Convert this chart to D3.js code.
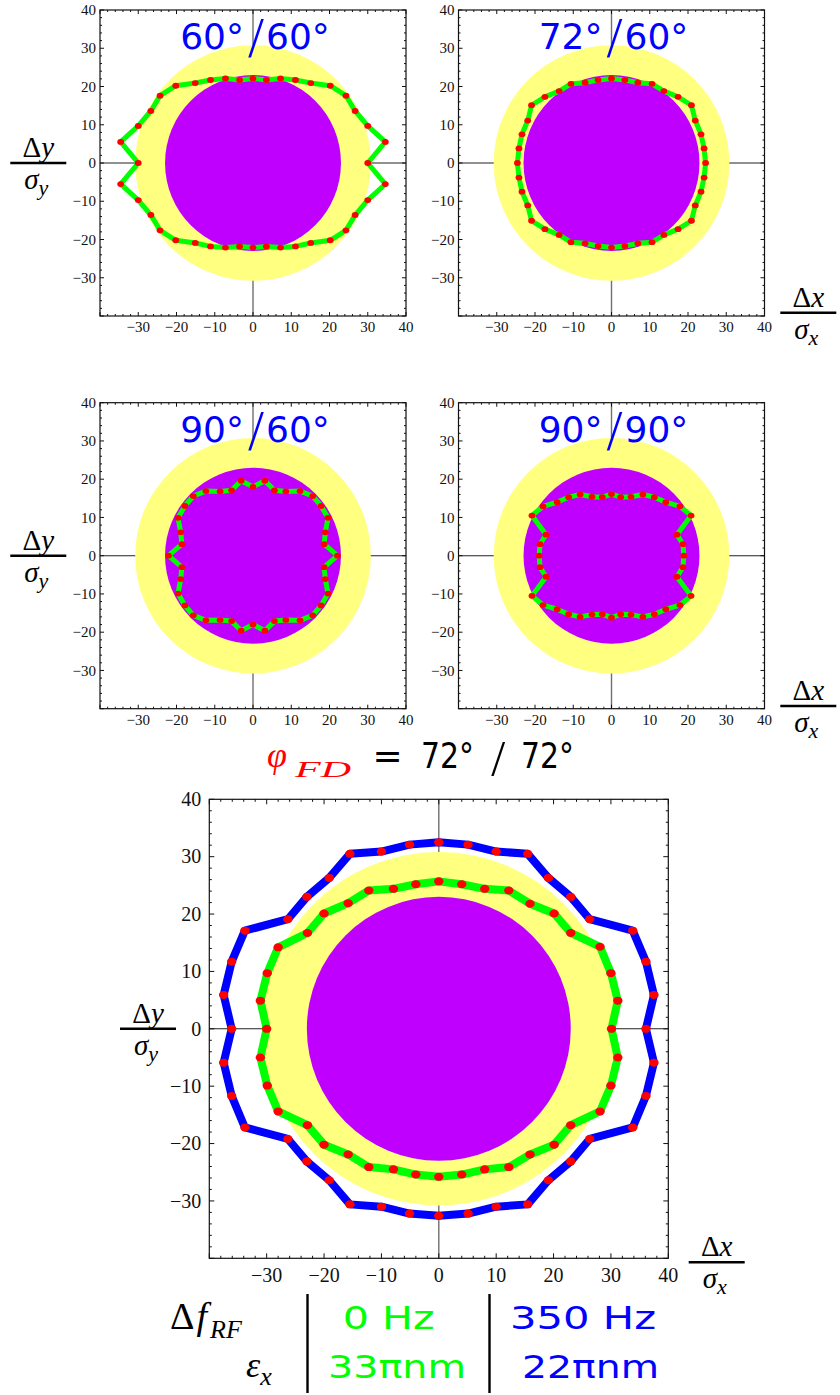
<!DOCTYPE html>
<html>
<head>
<meta charset="utf-8">
<script src="https://cdn.jsdelivr.net/npm/d3@7"></script>
<style>
  body { margin: 0; background: #fff; }
  svg { display: block; }
</style>
</head>
<body>
<svg id="chart" width="840" height="1395"></svg>
<script>
// Values, in units of sigma

const axisDomain = [-40, 40];
const labelTicks = [-30, -20, -10, 0, 10, 20, 30, 40];

const yellowRadius = 30.8;
const purpleRadius = 23.0;

// phase 60/60
const ring6060 = [
  [30.0, 0], [34.6, 5.5], [30.0, 9.7], [26.7, 13.6], [24.3, 17.6], [20.2, 20.2], [15.1, 20.9], [11.1, 21.7], [7.2, 22.1], [3.5, 21.7],
  [0, 22.1], [-3.5, 21.7], [-7.2, 22.1], [-11.1, 21.7], [-15.1, 20.9], [-20.2, 20.2], [-24.3, 17.6], [-26.7, 13.6], [-30.0, 9.7], [-34.6, 5.5],
  [-30.0, 0], [-34.6, -5.5], [-30.0, -9.7], [-26.7, -13.6], [-24.3, -17.6], [-20.2, -20.2], [-15.1, -20.9], [-11.1, -21.8], [-7.2, -22.1], [-3.5, -21.8],
  [0, -22.1], [3.5, -21.8], [7.2, -22.1], [11.1, -21.8], [15.1, -20.9], [20.2, -20.2], [24.3, -17.6], [26.7, -13.6], [30.0, -9.7], [34.6, -5.5]
];

// phase 72/60
const ring7260 = [
  [24.6, 0], [24.2, 3.8], [23.4, 7.5], [21.9, 11.1], [20.9, 15.1], [17.4, 17.3], [13.7, 18.8], [10.6, 20.7], [6.9, 21.0], [3.5, 21.7],
  [0, 22.1], [-3.5, 21.7], [-6.9, 21.0], [-10.6, 20.7], [-13.7, 18.8], [-17.4, 17.3], [-20.9, 15.1], [-21.9, 11.1], [-23.4, 7.5], [-24.2, 3.8],
  [-24.6, 0], [-24.2, -3.8], [-23.4, -7.5], [-21.9, -11.1], [-20.9, -15.1], [-17.4, -17.3], [-13.7, -18.8], [-10.6, -20.7], [-6.9, -21.0], [-3.5, -21.7],
  [0, -22.1], [3.5, -21.7], [6.9, -21.0], [10.6, -20.7], [13.7, -18.8], [17.4, -17.3], [20.9, -15.1], [21.9, -11.1], [23.4, -7.5], [24.2, -3.8]
];

// phase 90/60
const ring9060 = [
  [22.1, 0], [18.6, 3.0], [18.9, 6.1], [19.6, 9.9], [17.8, 13.0], [15.6, 15.6], [12.3, 16.9], [8.6, 16.8], [5.6, 17.1], [3.1, 19.6],
  [0, 18.0], [-3.1, 19.6], [-5.6, 17.1], [-8.6, 16.8], [-12.3, 16.9], [-15.6, 15.6], [-17.8, 13.0], [-19.6, 9.9], [-18.9, 6.1], [-18.6, 3.0],
  [-22.1, 0], [-18.6, -3.0], [-18.9, -6.1], [-19.6, -9.9], [-17.8, -13.0], [-15.6, -15.6], [-12.3, -16.9], [-8.6, -16.8], [-5.6, -17.1], [-3.1, -19.6],
  [0, -18.0], [3.1, -19.6], [5.6, -17.1], [8.6, -16.8], [12.3, -16.9], [15.6, -15.6], [17.8, -13.0], [19.6, -9.9], [18.9, -6.1], [18.6, -3.0]
];

// phase 90/90
const ring9090 = [
  [18.9, 0], [18.7, 3.0], [17.1, 5.5], [20.8, 10.5], [17.9, 12.9], [14.2, 14.0], [11.2, 15.3], [8.2, 16.0], [5.1, 15.4], [2.4, 15.3],
  [0, 16.1], [-2.4, 15.3], [-5.1, 15.4], [-8.2, 16.0], [-11.2, 15.3], [-14.2, 14.0], [-17.9, 12.9], [-20.8, 10.5], [-17.1, 5.5], [-18.7, 3.0],
  [-18.9, 0], [-18.7, -3.0], [-17.1, -5.5], [-20.8, -10.5], [-17.9, -12.9], [-14.2, -14.0], [-11.2, -15.3], [-8.2, -16.0], [-5.1, -15.4], [-2.4, -15.3],
  [0, -16.2], [2.4, -15.3], [5.1, -15.4], [8.2, -16.0], [11.2, -15.3], [14.2, -14.0], [17.9, -12.9], [20.8, -10.5], [17.1, -5.5], [18.7, -3.0]
];

// phase 72/72, 0 Hz
const ring7272green = [
  [30.1, 0], [31.2, 4.9], [30.0, 9.7], [28.1, 14.3], [23.0, 16.7], [20.1, 20.1], [15.9, 21.8], [12.2, 24.1], [8.0, 24.4], [4.0, 25.2],
  [0, 25.7], [-4.0, 25.2], [-7.9, 24.4], [-12.2, 24.1], [-15.8, 21.9], [-20.0, 20.1], [-22.9, 16.7], [-28.0, 14.2], [-29.9, 9.7], [-31.1, 4.9],
  [-30.0, 0], [-31.1, -5.0], [-29.9, -9.9], [-28.0, -14.4], [-22.9, -16.8], [-20.0, -20.2], [-15.8, -21.9], [-12.2, -24.1], [-7.9, -24.5], [-4.0, -25.4],
  [0, -25.8], [4.0, -25.4], [8.0, -24.5], [12.2, -24.1], [15.9, -21.9], [20.1, -20.2], [23.0, -16.8], [28.1, -14.4], [30.0, -9.9], [31.2, -5.0]
];

// phase 72/72, 350 Hz
const ring7272blue = [
  [36.1, 0], [37.5, 5.9], [36.1, 11.7], [33.8, 17.1], [26.3, 19.1], [23.0, 23.0], [19.1, 26.3], [15.5, 30.5], [10.0, 30.9], [5.1, 32.1],
  [0, 32.5], [-5.1, 32.1], [-10.0, 30.9], [-15.5, 30.5], [-19.1, 26.3], [-23.0, 23.0], [-26.3, 19.1], [-33.8, 17.1], [-36.1, 11.7], [-37.5, 5.9],
  [-36.1, 0], [-37.5, -5.9], [-36.1, -11.7], [-33.8, -17.2], [-26.3, -19.2], [-23.0, -23.1], [-19.1, -26.4], [-15.5, -30.6], [-10.0, -31.0], [-5.1, -32.2],
  [0, -32.6], [5.1, -32.2], [10.0, -31.0], [15.5, -30.6], [19.1, -26.4], [23.0, -23.1], [26.3, -19.2], [33.8, -17.2], [36.1, -11.7], [37.5, -5.9]
];

const smallTitles = [["60°", "60°"], ["72°", "60°"], ["90°", "60°"], ["90°", "90°"]];
const bigTitle = ["72°", "72°"];
const legendFreq = ["0 Hz", "350 Hz"];
const legendEmit = ["33πnm", "22πnm"];

const GREEN = "#00ff00", BLUE = "#0000ff", RED = "#ff0000";
const YELLOW = "#ffff80", PURPLE = "#bf00ff";
const SERIF = "'Liberation Serif', 'Times New Roman', 'DejaVu Serif', serif";
const SANS = "'DejaVu Sans', sans-serif";

const svg = d3.select("#chart");
const fmt = d => d < 0 ? "\u2212" + Math.abs(d) : String(d);

function drawPanel(cfg) {
  const x = d3.scaleLinear().domain(axisDomain).range([cfg.x0, cfg.x0 + cfg.size]);
  const y = d3.scaleLinear().domain(axisDomain).range([cfg.y0 + cfg.size, cfg.y0]);
  const g = svg.append("g");

  // axes through the origin
  g.append("line")
    .attr("x1", x(-40)).attr("x2", x(40)).attr("y1", y(0)).attr("y2", y(0))
    .attr("stroke", "#222").attr("stroke-width", 1.1);
  g.append("line")
    .attr("x1", x(0)).attr("x2", x(0)).attr("y1", y(-40)).attr("y2", y(40))
    .attr("stroke", "#707070").attr("stroke-width", 1.4);

  // beam discs
  g.append("circle")
    .attr("cx", x(0)).attr("cy", y(0)).attr("r", x(yellowRadius) - x(0))
    .attr("fill", YELLOW);
  g.append("circle")
    .attr("cx", x(0)).attr("cy", y(0)).attr("r", x(purpleRadius) - x(0))
    .attr("fill", PURPLE);

  const line = d3.line().x(d => x(d[0])).y(d => y(d[1])).curve(d3.curveLinearClosed);
  cfg.rings.forEach(r => {
    g.append("path")
      .datum(r.pts)
      .attr("d", line)
      .attr("fill", "none")
      .attr("stroke", r.color)
      .attr("stroke-width", cfg.lineWidth)
      .attr("stroke-linejoin", "round");
  });
  cfg.rings.forEach(r => {
    g.selectAll(null)
      .data(r.pts)
      .enter().append("ellipse")
      .attr("cx", d => x(d[0])).attr("cy", d => y(d[1]))
      .attr("rx", cfg.dot[0]).attr("ry", cfg.dot[1])
      .attr("fill", RED);
  });

  // frame with inward ticks
  g.append("rect")
    .attr("x", x(-40)).attr("y", y(40))
    .attr("width", x(40) - x(-40)).attr("height", y(-40) - y(40))
    .attr("fill", "none").attr("stroke", "#111").attr("stroke-width", 1.2);

  const all = d3.range(-40, 41, 2);
  const len = v => (v % 10 === 0 ? cfg.tick[0] : cfg.tick[1]);
  all.forEach(v => {
    g.append("line").attr("x1", x(v)).attr("x2", x(v))
      .attr("y1", y(-40)).attr("y2", y(-40) - len(v)).attr("stroke", "#111");
    g.append("line").attr("x1", x(v)).attr("x2", x(v))
      .attr("y1", y(40)).attr("y2", y(40) + len(v)).attr("stroke", "#111");
    g.append("line").attr("y1", y(v)).attr("y2", y(v))
      .attr("x1", x(-40)).attr("x2", x(-40) + len(v)).attr("stroke", "#111");
    g.append("line").attr("y1", y(v)).attr("y2", y(v))
      .attr("x1", x(40)).attr("x2", x(40) - len(v)).attr("stroke", "#111");
  });

  g.selectAll(null)
    .data(labelTicks)
    .enter().append("text")
    .attr("font-family", SERIF)
    .attr("fill", "#111")
    .attr("x", d => x(d)).attr("y", y(-40) + cfg.xLabelDy)
    .attr("text-anchor", "middle")
    .attr("font-size", cfg.fontSize)
    .text(fmt);

  g.selectAll(null)
    .data(labelTicks)
    .enter().append("text")
    .attr("font-family", SERIF)
    .attr("fill", "#111")
    .attr("x", x(-40) - cfg.yLabelDx).attr("y", d => y(d))
    .attr("dy", "0.34em")
    .attr("text-anchor", "end")
    .attr("font-size", cfg.fontSize)
    .text(fmt);

  return { x, y };
}

// phase advance title like "60°/60°"
function phaseTitle(cx, base, parts, color) {
  svg.append("text").attr("font-family", SANS)
    .attr("x", cx - 9).attr("y", base)
    .attr("text-anchor", "end").attr("font-size", 36).attr("fill", color)
    .text(parts[0]);
  svg.append("text").attr("font-family", SERIF)
    .attr("x", cx + 3).attr("y", base + 8)
    .attr("text-anchor", "middle").attr("font-size", 56).attr("fill", color)
    .text("/");
  svg.append("text").attr("font-family", SANS)
    .attr("x", cx + 13).attr("y", base)
    .attr("text-anchor", "start").attr("font-size", 36).attr("fill", color)
    .text(parts[1]);
}

// stacked fraction like  Δy / σ_y
function fraction(cx, barY, v) {
  const t = svg.append("text").attr("font-family", SERIF)
    .attr("x", cx).attr("y", barY - 6)
    .attr("text-anchor", "middle").attr("font-size", 29).attr("fill", "#000");
  t.append("tspan").text("Δ");
  t.append("tspan").attr("font-style", "italic").text(v);

  svg.append("line")
    .attr("x1", cx - 28).attr("x2", cx + 28).attr("y1", barY).attr("y2", barY)
    .attr("stroke", "#000").attr("stroke-width", 2.6);

  const b = svg.append("text").attr("font-family", SERIF)
    .attr("x", cx - 2).attr("y", barY + 26)
    .attr("text-anchor", "middle").attr("font-size", 29).attr("font-style", "italic").attr("fill", "#000");
  b.append("tspan").text("σ");
  b.append("tspan").attr("font-size", 22).attr("dy", 6).text(v);
}

// ---- four small panels ----
const small = [
  { x0: 100, y0: 10, rings: [{ pts: ring6060, color: GREEN }] },
  { x0: 458.5, y0: 10, rings: [{ pts: ring7260, color: GREEN }] },
  { x0: 100, y0: 402.7, rings: [{ pts: ring9060, color: GREEN }] },
  { x0: 458.5, y0: 402.7, rings: [{ pts: ring9090, color: GREEN }] }
];
small.forEach((p, i) => {
  const s = drawPanel(Object.assign({
    size: 306, lineWidth: 5, dot: [3.4, 2.9], tick: [4, 2],
    fontSize: 15, xLabelDy: 16, yLabelDx: 4
  }, p));
  phaseTitle(s.x(0), p.y0 + 39.3, smallTitles[i], BLUE);
});

fraction(38.3, 163, "y");
fraction(38.3, 555.7, "y");
fraction(808.3, 312.7, "x");
fraction(808.3, 706, "x");

// ---- big panel, phase 72/72 ----
const big = drawPanel({
  x0: 209.3, y0: 799.3, size: 459,
  rings: [{ pts: ring7272blue, color: BLUE }, { pts: ring7272green, color: GREEN }],
  lineWidth: 8, dot: [4.7, 4.0], tick: [5, 2.5],
  fontSize: 20, xLabelDy: 24, yLabelDx: 8
});

fraction(148, big.y(0), "y");
fraction(716.7, 1262.3, "x");

// title  φ_FD = 72°/72°
svg.append("text").attr("font-family", SERIF)
  .attr("x", 267).attr("y", 767).attr("font-size", 36)
  .attr("font-style", "italic").attr("fill", RED)
  .text("φ");
svg.append("text").attr("font-family", SERIF)
  .attr("x", 295).attr("y", 777).attr("font-size", 24)
  .attr("font-style", "italic").attr("fill", RED)
  .attr("textLength", 56).attr("lengthAdjust", "spacingAndGlyphs")
  .text("FD");
svg.append("text").attr("font-family", SANS)
  .attr("x", 387.5).attr("y", 768).attr("text-anchor", "middle")
  .attr("font-size", 36).attr("fill", "#000").text("=");
svg.append("text").attr("font-family", SANS)
  .attr("x", 421).attr("y", 768).attr("font-size", 36).attr("fill", "#000")
  .attr("textLength", 53).attr("lengthAdjust", "spacingAndGlyphs")
  .text(bigTitle[0]);
svg.append("text").attr("font-family", SERIF)
  .attr("x", 498.3).attr("y", 775).attr("text-anchor", "middle")
  .attr("font-size", 50).attr("fill", "#000").text("/");
svg.append("text").attr("font-family", SANS)
  .attr("x", 521).attr("y", 768).attr("font-size", 36).attr("fill", "#000")
  .attr("textLength", 53).attr("lengthAdjust", "spacingAndGlyphs")
  .text(bigTitle[1]);

// ---- legend table ----
const df = svg.append("text").attr("font-family", SERIF)
  .attr("x", 170).attr("y", 1329).attr("font-size", 38).attr("fill", "#000");
df.append("tspan").text("Δ");
df.append("tspan").attr("font-style", "italic").attr("dx", 2).text("f");
df.append("tspan").attr("font-style", "italic").attr("font-size", 26).attr("dy", 9).attr("dx", 3).text("RF");

const ex = svg.append("text").attr("font-family", SERIF)
  .attr("x", 246).attr("y", 1377).attr("font-size", 36).attr("font-style", "italic").attr("fill", "#000");
ex.append("tspan").text("ε");
ex.append("tspan").attr("font-size", 26).attr("dy", 8).text("x");

[307.5, 489.5].forEach(xv => {
  svg.append("line")
    .attr("x1", xv).attr("x2", xv).attr("y1", 1294).attr("y2", 1393)
    .attr("stroke", "#000").attr("stroke-width", 2.4);
});

const legendCols = [
  { color: GREEN, freqX: 342.7, freqW: 92, emitX: 328, emitW: 138 },
  { color: BLUE, freqX: 510, freqW: 146, emitX: 522, emitW: 137 }
];
legendCols.forEach((c, i) => {
  svg.append("text").attr("font-family", SANS)
    .attr("x", c.freqX).attr("y", 1329.3).attr("font-size", 32).attr("fill", c.color)
    .attr("textLength", c.freqW).attr("lengthAdjust", "spacingAndGlyphs")
    .text(legendFreq[i]);
  svg.append("text").attr("font-family", SANS)
    .attr("x", c.emitX).attr("y", 1378.3).attr("font-size", 32).attr("fill", c.color)
    .attr("textLength", c.emitW).attr("lengthAdjust", "spacingAndGlyphs")
    .text(legendEmit[i]);
});
</script>
</body>
</html>
